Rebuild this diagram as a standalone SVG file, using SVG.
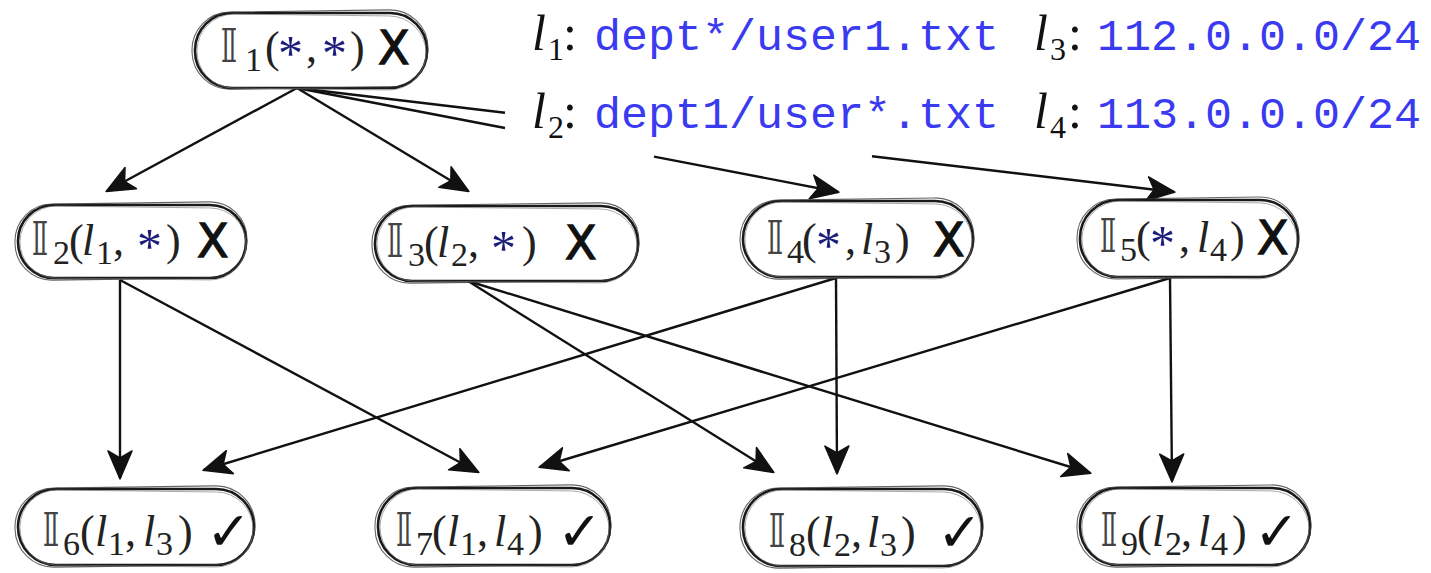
<svg xmlns="http://www.w3.org/2000/svg" width="1431" height="573" viewBox="0 0 1431 573">
<defs>
<marker id="ah" viewBox="-30 -14 32 28" refX="0" refY="0" markerWidth="32" markerHeight="28" markerUnits="userSpaceOnUse" orient="auto">
<path d="M1,0 L-27,-12 L-20,0 L-27,12 Z" fill="#111" stroke="#111" stroke-width="1.5" stroke-linejoin="round"/>
</marker>
</defs>
<style>
.ol{fill:#fff;stroke:#1a1a1a;stroke-width:2.6}
.sk{fill:none;stroke:#333;stroke-width:1.1;opacity:.75}
.sk2{fill:none;stroke:#777;stroke-width:0.9;opacity:.7}
.lab{font-family:"Liberation Serif","DejaVu Serif",serif;font-size:44px;fill:#222}
.bb{font-family:"DejaVu Sans",sans-serif;font-size:46px;fill:#444}
.sub{font-size:34px}
.it{font-style:italic}
.st{fill:#1c1c7a;font-size:50px}
.x{font-family:"DejaVu Sans",sans-serif;font-size:46px;fill:#111;stroke:#111;stroke-width:1.3}
.ck{font-family:"DejaVu Sans",sans-serif;font-weight:bold;font-size:54px;fill:#111}
.edge{stroke:#111;stroke-width:2.4;fill:none;marker-end:url(#ah)}
.leg{font-family:"Liberation Serif",serif;font-size:50px;fill:#111}
.lsub{font-size:32px}
.mono{font-family:"Liberation Mono",monospace;font-size:45px;fill:#3a3af0}
</style>
<g id="connectors">
<path class="edge" d="M297,88 L107,191"/>
<path class="edge" d="M297,88 L468,191"/>
<path class="edge" d="M297,88 L505,128 M654,156.6 L838,192"/>
<path class="edge" d="M297,88 L505,112.7 M872,156.2 L1174,192"/>
<path class="edge" d="M120,280 L120,478"/>
<path class="edge" d="M120,280 L478,472"/>
<path class="edge" d="M836,278 L204,470"/>
<path class="edge" d="M836,278 L837,473"/>
<path class="edge" d="M1170,278 L540,467"/>
<path class="edge" d="M1170,278 L1172,481"/>
<path class="edge" d="M468,281 L773,472"/>
<path class="edge" d="M468,281 L1090,473"/>
</g>
<g id="legend">
<text class="leg"><tspan class="it" x="532" y="50">l</tspan><tspan class="lsub" x="548" y="60">1</tspan><tspan x="563" y="50">:</tspan></text>
<text class="mono" x="594" y="50">dept*/user1.txt</text>
<text class="leg"><tspan class="it" x="1034" y="50">l</tspan><tspan class="lsub" x="1050" y="60">3</tspan><tspan x="1068" y="50">:</tspan></text>
<text class="mono" x="1097" y="50">112.0.0.0/24</text>
<text class="leg"><tspan class="it" x="532" y="128">l</tspan><tspan class="lsub" x="548" y="138">2</tspan><tspan x="563" y="128">:</tspan></text>
<text class="mono" x="594" y="128">dept1/user*.txt</text>
<text class="leg"><tspan class="it" x="1034" y="128">l</tspan><tspan class="lsub" x="1050" y="138">4</tspan><tspan x="1068" y="128">:</tspan></text>
<text class="mono" x="1097" y="128">113.0.0.0/24</text>
</g>
<g id="I1">
<rect class="ol" x="195" y="13" width="232" height="75" rx="37"/>
<rect class="sk" x="192" y="11" width="236" height="77" rx="38" transform="rotate(-0.8 310 50)"/>
<rect class="sk2" x="197" y="15" width="229" height="74" rx="37" transform="rotate(0.7 310 50)"/>
<text class="lab"><tspan class="bb" x="220" y="62">𝕀</tspan><tspan class="sub" x="245" y="71">1</tspan><tspan x="265" y="62">(</tspan><tspan class="st" x="278" y="70">*</tspan><tspan x="306" y="62">,</tspan><tspan class="st" x="322" y="70">*</tspan><tspan x="350" y="62">)</tspan><tspan class="x" x="378" y="64">X</tspan></text>
</g>
<g id="I2">
<rect class="ol" x="18" y="205" width="228" height="73" rx="36"/>
<rect class="sk" x="15" y="203" width="232" height="76" rx="37" transform="rotate(-0.8 132 241)"/>
<rect class="sk2" x="20" y="207" width="226" height="72" rx="36" transform="rotate(0.7 132 241)"/>
<text class="lab"><tspan class="bb" x="31" y="255">𝕀</tspan><tspan class="sub" x="53" y="264">2</tspan><tspan x="69" y="255">(</tspan><tspan class="it" x="82" y="255">l</tspan><tspan class="sub" x="96" y="264">1</tspan><tspan x="113" y="255">,</tspan><tspan class="st" x="137" y="263">*</tspan><tspan x="166" y="255">)</tspan><tspan class="x" x="197" y="257">X</tspan></text>
</g>
<g id="I3">
<rect class="ol" x="375" y="206" width="263" height="75" rx="37"/>
<rect class="sk" x="372" y="204" width="267" height="78" rx="38" transform="rotate(-0.7 506 243)"/>
<rect class="sk2" x="377" y="208" width="260" height="74" rx="37" transform="rotate(0.6 506 243)"/>
<text class="lab"><tspan class="bb" x="386" y="257">𝕀</tspan><tspan class="sub" x="408" y="266">3</tspan><tspan x="424" y="257">(</tspan><tspan class="it" x="437" y="257">l</tspan><tspan class="sub" x="451" y="266">2</tspan><tspan x="468" y="257">,</tspan><tspan class="st" x="491" y="265">*</tspan><tspan x="522" y="257">)</tspan><tspan class="x" x="565" y="259">X</tspan></text>
</g>
<g id="I4">
<rect class="ol" x="743" y="201" width="230" height="76" rx="38"/>
<rect class="sk" x="740" y="199" width="234" height="79" rx="39" transform="rotate(-0.8 858 239)"/>
<rect class="sk2" x="745" y="203" width="227" height="75" rx="37" transform="rotate(0.7 858 239)"/>
<text class="lab"><tspan class="bb" x="766" y="254">𝕀</tspan><tspan class="sub" x="787" y="263">4</tspan><tspan x="802" y="254">(</tspan><tspan class="st" x="816" y="262">*</tspan><tspan x="845" y="254">,</tspan><tspan class="it" x="861" y="254">l</tspan><tspan class="sub" x="874" y="263">3</tspan><tspan x="895" y="254">)</tspan><tspan class="x" x="933" y="256">X</tspan></text>
</g>
<g id="I5">
<rect class="ol" x="1080" y="200" width="218" height="77" rx="38"/>
<rect class="sk" x="1077" y="198" width="222" height="80" rx="39" transform="rotate(-0.8 1189 238)"/>
<rect class="sk2" x="1082" y="202" width="215" height="76" rx="38" transform="rotate(0.7 1189 238)"/>
<text class="lab"><tspan class="bb" x="1099" y="252">𝕀</tspan><tspan class="sub" x="1120" y="261">5</tspan><tspan x="1136" y="252">(</tspan><tspan class="st" x="1150" y="260">*</tspan><tspan x="1179" y="252">,</tspan><tspan class="it" x="1197" y="252">l</tspan><tspan class="sub" x="1210" y="261">4</tspan><tspan x="1230" y="252">)</tspan><tspan class="x" x="1257" y="254">X</tspan></text>
</g>
<g id="I6">
<rect class="ol" x="18" y="489" width="236" height="76" rx="38"/>
<rect class="sk" x="15" y="487" width="240" height="79" rx="39" transform="rotate(-0.8 135 527)"/>
<rect class="sk2" x="20" y="491" width="233" height="75" rx="37" transform="rotate(0.7 135 527)"/>
<text class="lab"><tspan class="bb" x="42" y="546">𝕀</tspan><tspan class="sub" x="63" y="555">6</tspan><tspan x="80" y="546">(</tspan><tspan class="it" x="95" y="546">l</tspan><tspan class="sub" x="108" y="555">1</tspan><tspan x="125" y="546">,</tspan><tspan class="it" x="143" y="546">l</tspan><tspan class="sub" x="156" y="555">3</tspan><tspan x="178" y="546">)</tspan><tspan class="ck" x="206" y="550">✓</tspan></text>
</g>
<g id="I7">
<rect class="ol" x="378" y="488" width="232" height="77" rx="38"/>
<rect class="sk" x="375" y="486" width="236" height="80" rx="39" transform="rotate(-0.8 494 527)"/>
<rect class="sk2" x="380" y="490" width="229" height="76" rx="38" transform="rotate(0.7 494 527)"/>
<text class="lab"><tspan class="bb" x="395" y="546">𝕀</tspan><tspan class="sub" x="416" y="555">7</tspan><tspan x="432" y="546">(</tspan><tspan class="it" x="447" y="546">l</tspan><tspan class="sub" x="460" y="555">1</tspan><tspan x="477" y="546">,</tspan><tspan class="it" x="494" y="546">l</tspan><tspan class="sub" x="507" y="555">4</tspan><tspan x="528" y="546">)</tspan><tspan class="ck" x="557" y="550">✓</tspan></text>
</g>
<g id="I8">
<rect class="ol" x="743" y="489" width="239" height="77" rx="38"/>
<rect class="sk" x="740" y="487" width="243" height="80" rx="39" transform="rotate(-0.8 862 528)"/>
<rect class="sk2" x="745" y="491" width="236" height="76" rx="38" transform="rotate(0.7 862 528)"/>
<text class="lab"><tspan class="bb" x="768" y="547">𝕀</tspan><tspan class="sub" x="789" y="556">8</tspan><tspan x="806" y="547">(</tspan><tspan class="it" x="821" y="547">l</tspan><tspan class="sub" x="834" y="556">2</tspan><tspan x="851" y="547">,</tspan><tspan class="it" x="867" y="547">l</tspan><tspan class="sub" x="880" y="556">3</tspan><tspan x="901" y="547">)</tspan><tspan class="ck" x="937" y="551">✓</tspan></text>
</g>
<g id="I9">
<rect class="ol" x="1080" y="488" width="230" height="77" rx="38"/>
<rect class="sk" x="1077" y="486" width="234" height="80" rx="39" transform="rotate(-0.8 1195 527)"/>
<rect class="sk2" x="1082" y="490" width="227" height="76" rx="38" transform="rotate(0.7 1195 527)"/>
<text class="lab"><tspan class="bb" x="1100" y="546">𝕀</tspan><tspan class="sub" x="1121" y="555">9</tspan><tspan x="1137" y="546">(</tspan><tspan class="it" x="1152" y="546">l</tspan><tspan class="sub" x="1165" y="555">2</tspan><tspan x="1181" y="546">,</tspan><tspan class="it" x="1198" y="546">l</tspan><tspan class="sub" x="1211" y="555">4</tspan><tspan x="1232" y="546">)</tspan><tspan class="ck" x="1254" y="550">✓</tspan></text>
</g>
</svg>
